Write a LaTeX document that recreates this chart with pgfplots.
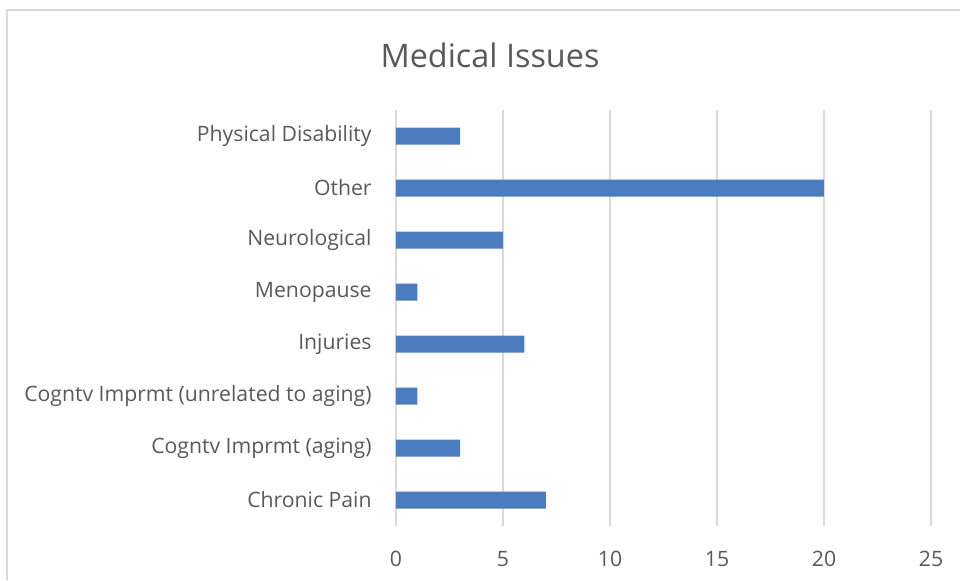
\documentclass[border=0pt]{standalone}
\usepackage{fontspec}
\setmainfont{Open Sans}
\usepackage{pgfplots}
\pgfplotsset{compat=1.18}
\definecolor{barblue}{HTML}{4A7CBE}
\definecolor{gridgray}{HTML}{D9D9D9}
\definecolor{txtgray}{HTML}{595959}
\begin{document}
\begin{tikzpicture}
\useasboundingbox (0,0) rectangle (480pt,290pt);
\draw[gridgray, line width=0.6pt] (3.5pt,0) -- (3.5pt,285pt) -- (480pt,285pt);
\node[txtgray, font=\fontsize{16.2pt}{18pt}\selectfont] at (245pt,262.5pt) {Medical Issues};
\begin{axis}[
  at={(198pt,27pt)}, anchor=south west,
  scale only axis, width=267.5pt, height=208pt,
  xmin=0, xmax=25, ymin=-0.5, ymax=7.5,
  xtick={0,5,10,15,20,25},
  ytick={0,1,2,3,4,5,6,7},
  yticklabels={Chronic Pain,Cogntv Imprmt (aging),Cogntv Imprmt (unrelated to aging),Injuries,Menopause,Neurological,Other,Physical Disability},
  axis line style={draw=none},
  major tick length=0pt,
  xmajorgrids, grid style={gridgray, line width=0.6pt},
  /pgf/number format/assume math mode=true,
  tick label style={txtgray, font=\fontsize{10.6pt}{12pt}\selectfont},
  yticklabel style={inner sep=0pt, anchor=east, xshift=-12pt},
  xticklabel style={inner sep=0pt, anchor=base, yshift=-20pt},
  xbar, bar width=8.5pt,
]
\addplot[fill=barblue, draw=none] coordinates {
 (7,0) (3,1) (1,2) (6,3) (1,4) (5,5) (20,6) (3,7)
};
\end{axis}
\end{tikzpicture}
\end{document}
